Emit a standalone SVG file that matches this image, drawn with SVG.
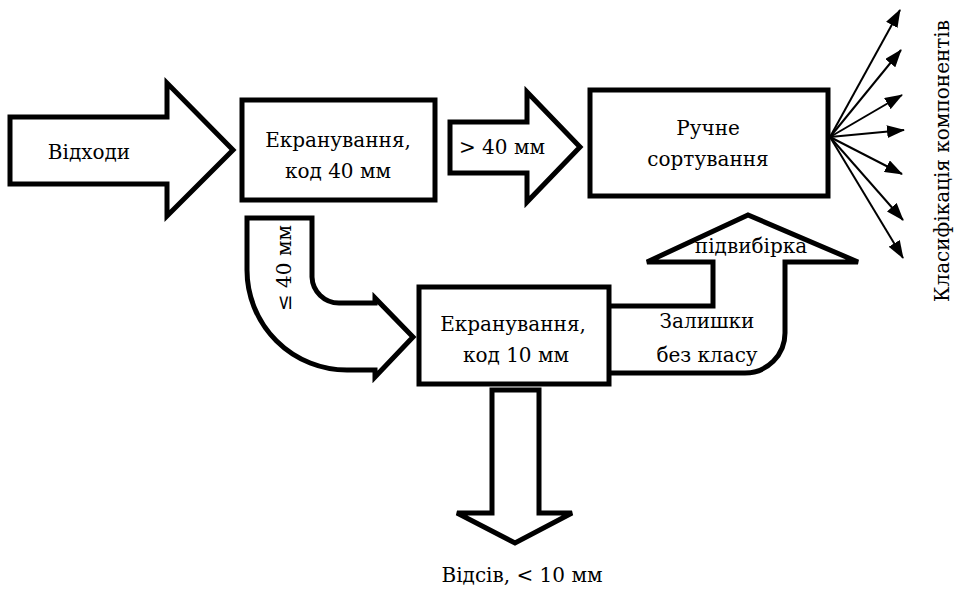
<svg xmlns="http://www.w3.org/2000/svg" width="956" height="589" viewBox="0 0 956 589">
<defs>
<style>
.s{fill:#fff;stroke:#000;stroke-width:5;stroke-linejoin:miter}
.t{font-family:"DejaVu Serif","Liberation Serif",serif;font-size:20px;fill:#000}
.f{stroke:#000;stroke-width:2;fill:none}
</style>
<marker id="ah" markerWidth="18" markerHeight="13" refX="17" refY="6.5" orient="auto" markerUnits="userSpaceOnUse">
<path d="M0,0 L18,6.5 L0,13 Z" fill="#000"/>
</marker>
</defs>
<g id="connectors">
<path id="in" class="s" d="M10,117 L167,117 L167,83 L233,150 L167,216 L167,184 L10,184 Z"/>
<path id="a40" class="s" d="M450,122 L527,122 L527,92 L580,147 L527,202 L527,173 L450,173 Z"/>
<path id="le40" class="s" d="M247,218 L312,218 L312,277 A27,27 0 0 0 339,303 L375,303 L375,298 L413,337 L375,377 L375,370 L347,370 A100,100 0 0 1 247,270 Z"/>
<path id="rest" class="s" d="M609,306 L713,306 L713,262 L647,262 L748,215 L858,262 L785,262 L785,333 A40,40 0 0 1 745,373 L609,373"/>
<path id="fine" class="s" d="M492,390 L539,390 L539,513 L572,513 L515,543 L457,513 L492,513 Z"/>
<g id="fan">
<line class="f" x1="830" y1="137" x2="900" y2="10" marker-end="url(#ah)"/>
<line class="f" x1="830" y1="137" x2="901" y2="50" marker-end="url(#ah)"/>
<line class="f" x1="830" y1="137" x2="902" y2="95" marker-end="url(#ah)"/>
<line class="f" x1="830" y1="137" x2="904" y2="130" marker-end="url(#ah)"/>
<line class="f" x1="830" y1="137" x2="902" y2="174" marker-end="url(#ah)"/>
<line class="f" x1="830" y1="137" x2="903" y2="220" marker-end="url(#ah)"/>
<line class="f" x1="830" y1="137" x2="903" y2="258" marker-end="url(#ah)"/>
</g>
</g>
<g id="n_box1">
<rect class="s" x="242" y="100" width="193" height="100"/>
<text class="t" x="338" y="147" text-anchor="middle">Екранування,</text>
<text class="t" x="338" y="178" text-anchor="middle">код 40 мм</text>
</g>
<g id="n_box2">
<rect class="s" x="590" y="90" width="238" height="106"/>
<text class="t" x="708" y="135" text-anchor="middle">Ручне</text>
<text class="t" x="708" y="166" text-anchor="middle">сортування</text>
</g>
<g id="n_box3">
<rect class="s" x="419" y="287" width="190" height="97"/>
<text class="t" x="513" y="331" text-anchor="middle">Екранування,</text>
<text class="t" x="516" y="362" text-anchor="middle">код 10 мм</text>
</g>
<g id="labels">
<text class="t" x="89" y="159" text-anchor="middle">Відходи</text>
<text class="t" x="502" y="154" text-anchor="middle">&gt; 40 мм</text>
<text class="t" transform="translate(291,268) rotate(-90)" text-anchor="middle">≤ 40 мм</text>
<text class="t" x="751" y="253" text-anchor="middle">підвибірка</text>
<text class="t" x="707" y="328" text-anchor="middle">Залишки</text>
<text class="t" x="707" y="362" text-anchor="middle">без класу</text>
<text class="t" x="522" y="582" text-anchor="middle">Відсів, &lt; 10 мм</text>
<text class="t" transform="translate(949,161) rotate(-90)" text-anchor="middle">Класифікація компонентів</text>
</g>
</svg>
